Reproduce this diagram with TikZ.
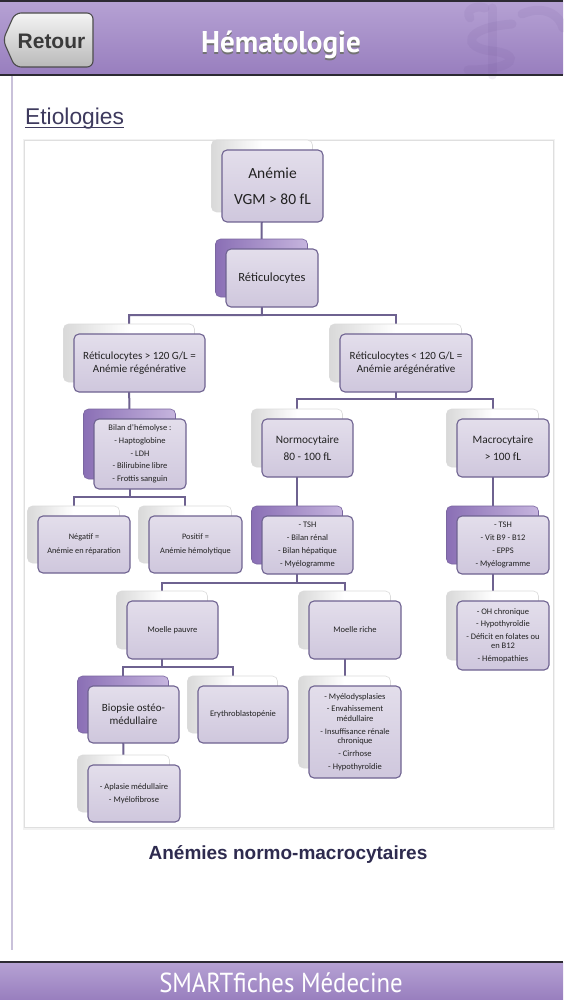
\documentclass[tikz,border=0pt]{standalone}
\usepackage{fontspec}
\setmainfont{Carlito}
\newfontfamily\arialfont{Liberation Sans}
\newfontfamily\dinfont[FakeStretch=0.9]{PT Sans}
\newfontfamily\dintitle[FakeStretch=0.97]{PT Sans}
\usetikzlibrary{backgrounds}
\definecolor{frontTop}{HTML}{E3DEEB}
\definecolor{frontBot}{HTML}{CFC7DD}
\definecolor{frontdraw}{HTML}{6F6391}
\definecolor{linecol}{HTML}{6E6290}
\definecolor{purpA}{HTML}{8A6FB5}
\definecolor{purpB}{HTML}{C6B5DE}
\definecolor{purpdraw}{HTML}{7A66A0}
\definecolor{hdrTop}{HTML}{B6A2D4}
\definecolor{hdrBot}{HTML}{987EBE}
\definecolor{hdrdark}{HTML}{2C2A33}
\definecolor{txtdark}{HTML}{222222}
\definecolor{etio}{HTML}{3E3A5E}
\definecolor{capcol}{HTML}{2E2B4F}
\definecolor{sidebar}{HTML}{C9C1DA}
\definecolor{btnTop}{HTML}{F4F4F4}
\definecolor{btnBot}{HTML}{B9B9B9}
\definecolor{btntxt}{HTML}{3A3A3A}
\definecolor{wmark}{HTML}{6A4E92}

\tikzset{
  backw/.style={rounded corners=5pt, draw=gray!28, line width=0.6pt, left color=gray!30, right color=white, middle color=white, inner sep=0pt},
  backp/.style={rounded corners=5pt, draw=purpdraw, line width=0.6pt, left color=purpA, right color=purpB, inner sep=0pt},
  front/.style={rounded corners=5pt, draw=frontdraw, line width=1.1pt, top color=frontTop, bottom color=frontBot, inner sep=1pt, align=center, text=txtdark},
  conn/.style={draw=linecol, line width=2pt},
  fbig/.style={font=\fontsize{15.5}{26}\selectfont},
  fmid/.style={font=\fontsize{11.3}{17}\selectfont},
  fmed/.style={font=\fontsize{11}{13}\selectfont},
  freti/.style={font=\fontsize{12.5}{14}\selectfont},
  fsmall/.style={font=\fontsize{8.5}{12.7}\selectfont},
  fsmallb/.style={font=\fontsize{8.3}{14}\selectfont},
  fwrap/.style={font=\fontsize{8.5}{9.5}\selectfont},
}
\newcommand\twobox[8]{%
  \node[#2, minimum width=#5pt, minimum height=#6pt] (#1b) at (#3-10.5,#4-10) {};
  \node[front, minimum width=#5pt, minimum height=#6pt, #7] (#1) at (#3,#4) {#8};
}

\begin{document}
\begin{tikzpicture}[x=1pt,y=-1pt]
\useasboundingbox (0,0) rectangle (563,1000);
\begin{pgfonlayer}{background}
  \fill[white] (0,0) rectangle (563,1000);
  % header
  \shade[top color=hdrTop, bottom color=hdrBot] (0,0) rectangle (563,75);
  \begin{scope}[opacity=0.09, line width=9pt, line cap=round]
    \draw[wmark] (492,8) -- (492,75);
    \draw[wmark] (512,24) .. controls (462,28) and (462,48) .. (492,51) .. controls (522,54) and (516,70) .. (468,70);
    \draw[wmark] (522,14) .. controls (545,4) and (560,16) .. (563,28);
    \draw[wmark] (470,18) .. controls (465,10) and (475,5) .. (485,8);
  \end{scope}
  \fill[hdrdark] (0,0) rectangle (563,2.5);
  \draw[hdrdark, line width=1.2pt] (0,75) -- (563,75);
  % sidebar
  \draw[sidebar, line width=1.5pt] (12,76) -- (12,950);
  % footer
  \shade[top color=hdrTop, bottom color=hdrBot] (0,962) rectangle (563,1000);
  \draw[hdrdark, line width=1.5pt] (0,962) -- (563,962);
  % panel
  \fill[gray!10] (22.5,139) rectangle (554.5,829.5);
  \fill[white, draw=gray!25, line width=0.6pt] (24,140) rectangle (553,827);
\end{pgfonlayer}

% header contents
\draw[draw=black!70, line width=1.1pt, top color=btnTop, bottom color=btnBot, rounded corners=6pt]
  (3,40) -- (15,13) -- (93,13) -- (93,67) -- (15,67) -- cycle;
\node[anchor=base, inner sep=0pt, text=btntxt, font=\arialfont\bfseries\fontsize{21}{24}\selectfont] (retour) at (51.5,49) {Retour};
\node[anchor=base, inner sep=0pt, text=black!55, font=\dintitle\bfseries\fontsize{30}{32}\selectfont] (titleshadow) at (281,54.5) {Hématologie};
\node[anchor=base, inner sep=0pt, text=white, font=\dintitle\bfseries\fontsize{30}{32}\selectfont] (title) at (281,53) {Hématologie};

% section title
\node[anchor=base west, inner sep=0pt, text=etio, font=\arialfont\fontsize{22.8}{26}\selectfont] (etiol) at (25,125) {Etiologies};
\draw[etio, line width=1pt] ([yshift=-3pt]etiol.base west) -- ([yshift=-3pt]etiol.base east);

% diagram boxes
\twobox{anemie}{backw}{272.5}{186}{101}{72}{fbig}{Anémie\\VGM > 80 fL}
\twobox{reti}{backp}{272}{278}{92}{58}{freti}{Réticulocytes}
\twobox{regen}{backw}{139.5}{363}{131}{58}{fmed}{Réticulocytes > 120 G/L =\\Anémie régénérative}
\twobox{aregen}{backw}{406}{363}{132}{58}{fmed}{Réticulocytes < 120 G/L =\\Anémie arégénérative}
\twobox{bilan}{backp}{140}{454}{92}{70}{fsmall}{Bilan d'hémolyse :\\- Haptoglobine\\- LDH\\- Bilirubine libre\\- Frottis sanguin}
\twobox{neg}{backw}{84}{544.5}{92}{57}{fsmallb}{Négatif =\\Anémie en réparation}
\twobox{pos}{backw}{195.5}{544.5}{93}{57}{fsmallb}{Positif =\\Anémie hémolytique}
\twobox{normo}{backw}{307.5}{448}{91}{58}{fmid}{Normocytaire\\80 - 100 fL}
\twobox{macro}{backw}{503}{448}{92}{58}{fmid}{Macrocytaire\\> 100 fL}
\twobox{normoex}{backp}{307.5}{545}{91}{58}{fsmall}{- TSH\\- Bilan rénal\\- Bilan hépatique\\- Myélogramme}
\twobox{macroex}{backp}{503}{545}{92}{58}{fsmall}{- TSH\\- Vit B9 - B12\\- EPPS\\- Myélogramme}
\twobox{pauvre}{backw}{172.5}{630}{91}{58}{fsmall}{Moelle pauvre}
\twobox{riche}{backw}{355}{630}{92}{58}{fsmall}{Moelle riche}
\twobox{macrocause}{backw}{503}{635.5}{92}{69}{fwrap}{- OH chronique\\[3pt]- Hypothyroïdie\\[3pt]- Déficit en folates ou\\en B12\\[3pt]- Hémopathies}
\twobox{biopsie}{backp}{133.5}{714.5}{91}{57}{fmed}{Biopsie ostéo-\\médullaire}
\twobox{erythro}{backw}{243}{714.5}{90}{57}{fsmall}{Erythroblastopénie}
\twobox{myelo}{backw}{355}{732}{92}{92}{fwrap}{- Myélodysplasies\\[3.3pt]- Envahissement\\médullaire\\[3.3pt]- Insuffisance rénale\\chronique\\[3.3pt]- Cirrhose\\[3.3pt]- Hypothyroïdie}
\twobox{aplasie}{backw}{134}{793.5}{92}{57}{fsmall}{- Aplasie médullaire\\- Myélofibrose}

% junctions
\coordinate (j1) at (262,315);
\coordinate (j2) at (395.5,399);
\coordinate (j3) at (129.5,497);
\coordinate (j4) at (297,583);
\coordinate (j5) at (162,667);

\begin{pgfonlayer}{background}
  \draw[conn] (anemieb.center) -- (retib.center);
  \draw[conn] (retib.center) -- (j1) -| (regenb.center);
  \draw[conn] (j1) -| (aregenb.center);
  \draw[conn] (regenb.center) -- (bilanb.center);
  \draw[conn] (bilanb.center) -- (j3) -| (negb.center);
  \draw[conn] (j3) -| (posb.center);
  \draw[conn] (aregenb.center) -- (j2) -| (normob.center);
  \draw[conn] (j2) -| (macrob.center);
  \draw[conn] (normob.center) -- (normoexb.center);
  \draw[conn] (macrob.center) -- (macroexb.center);
  \draw[conn] (macroexb.center) -- (macrocauseb.center);
  \draw[conn] (normoexb.center) -- (j4) -| (pauvreb.center);
  \draw[conn] (j4) -| (richeb.center);
  \draw[conn] (pauvreb.center) -- (j5) -| (biopsieb.center);
  \draw[conn] (j5) -| (erythrob.center);
  \draw[conn] (richeb.center) -- (myelob.center);
  \draw[conn] (biopsieb.center) -- (aplasieb.center);
\end{pgfonlayer}

% caption
\node[anchor=base, inner sep=0pt, text=capcol, font=\arialfont\bfseries\fontsize{19}{22}\selectfont] (caption) at (288,859) {Anémies normo-macrocytaires};

% footer text
\node[anchor=base, inner sep=0pt, text=white, font=\dinfont\fontsize{27.5}{30}\selectfont] (footer) at (281,992.5) {SMARTfiches Médecine};
\end{tikzpicture}
\end{document}
